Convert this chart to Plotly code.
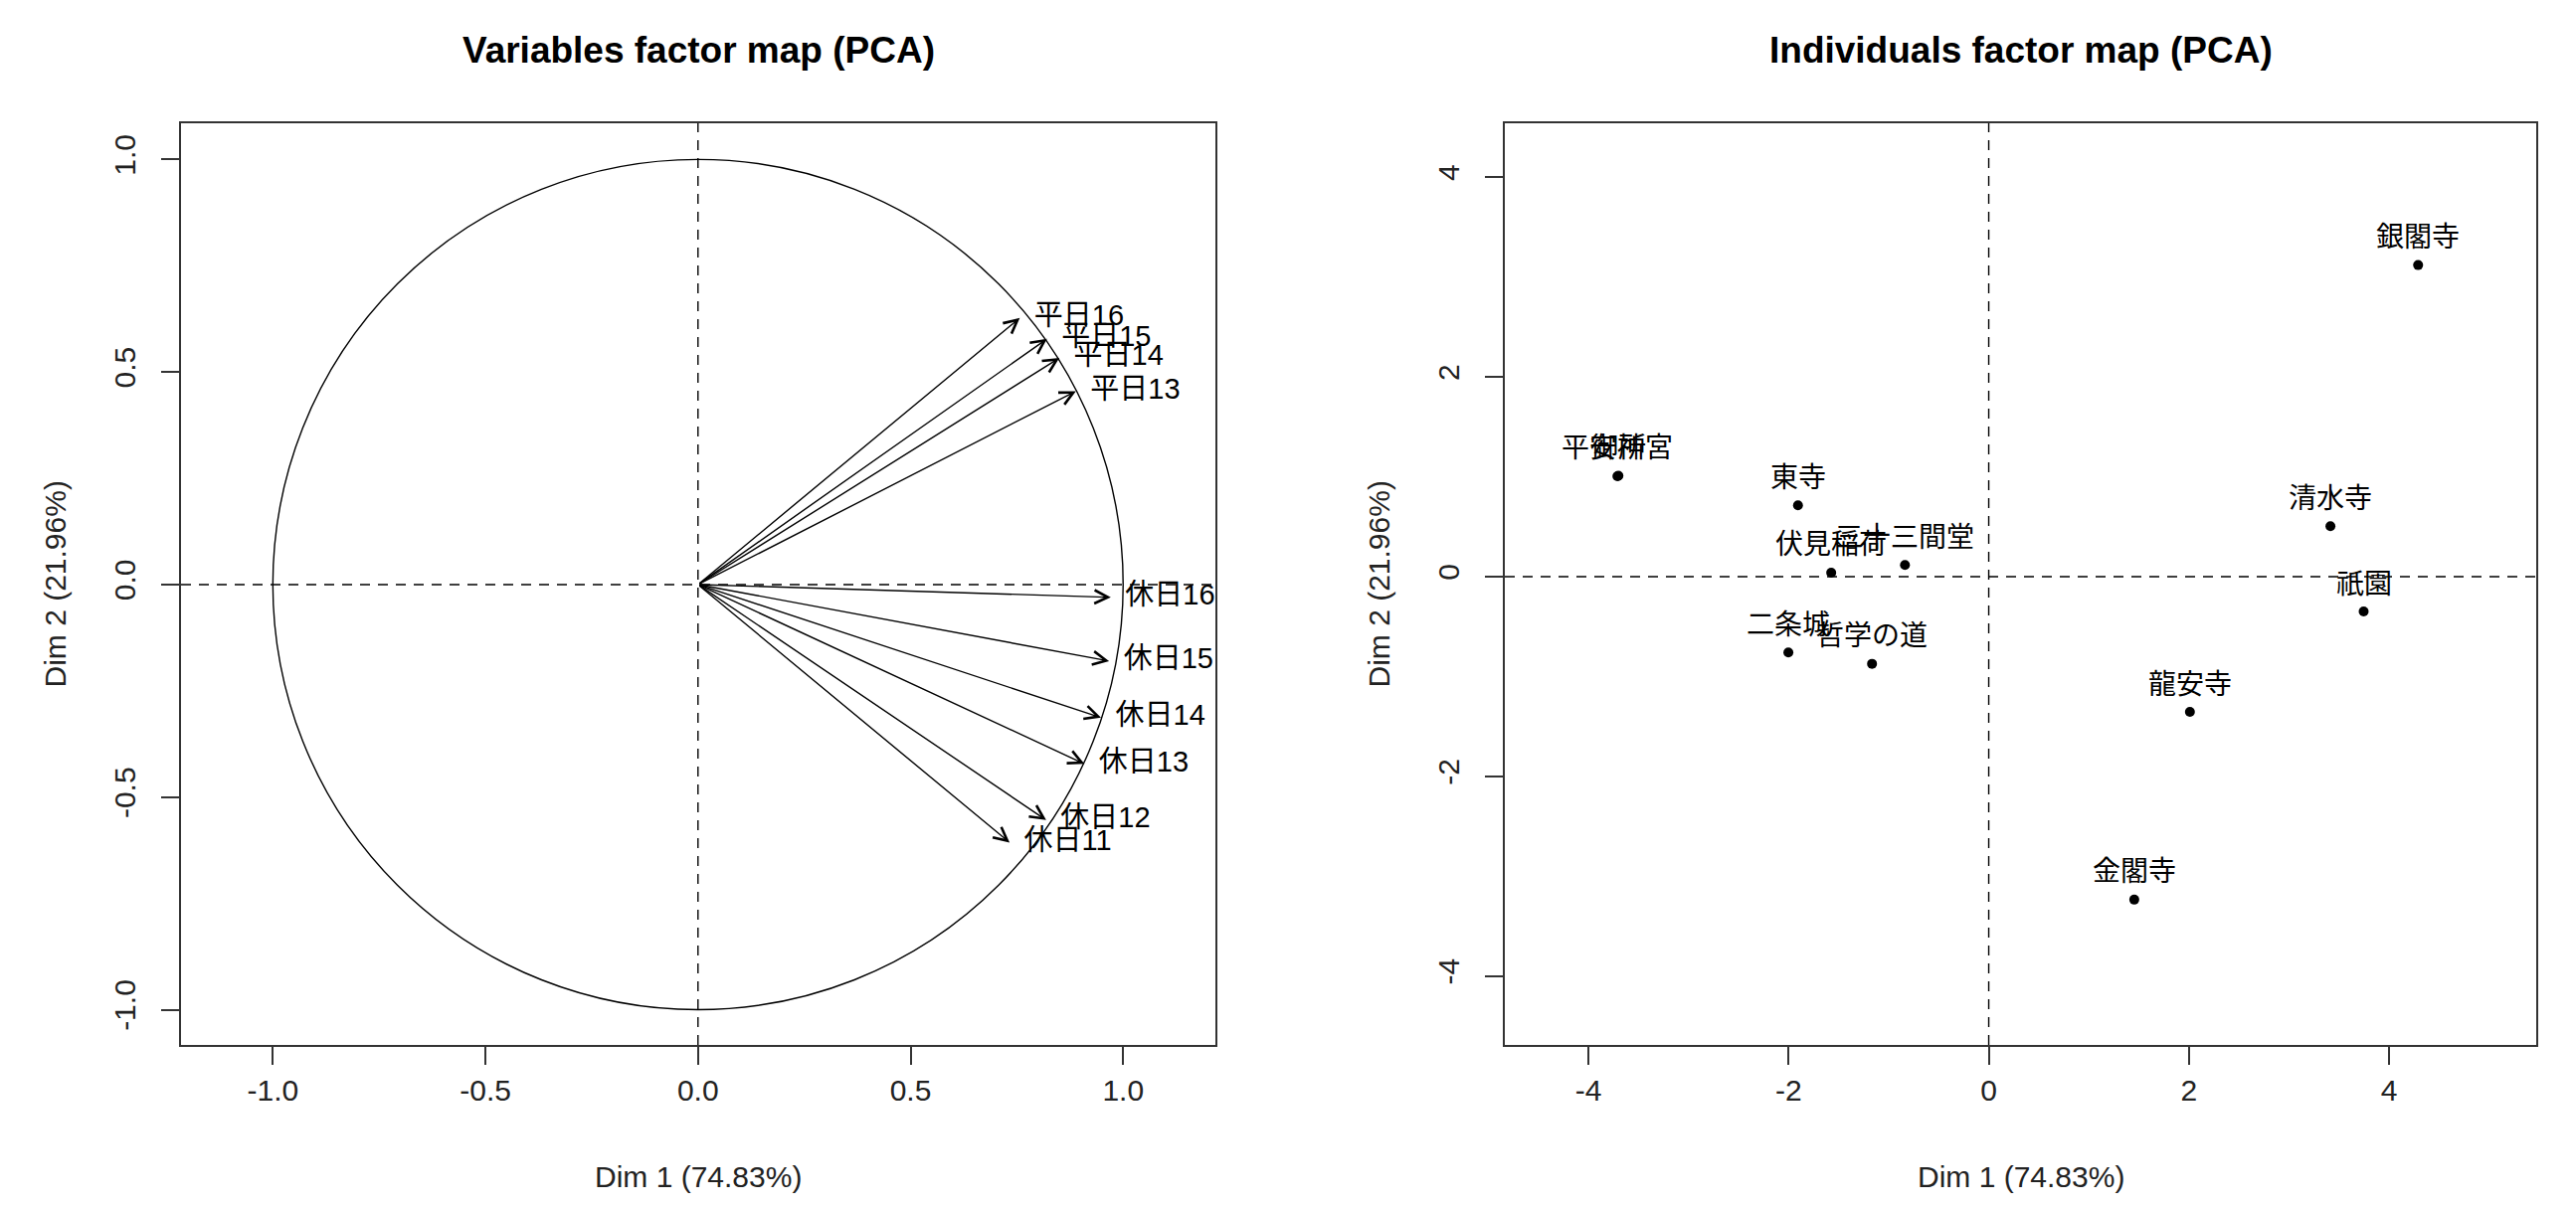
import plotly.graph_objects as go

W, H = 2590, 1216

# ---------------- data ----------------
var_names = ["平日13", "平日14", "平日15", "平日16",
             "休日11", "休日12", "休日13", "休日14", "休日15", "休日16"]
var_dim1 = [0.889, 0.850, 0.821, 0.757, 0.733, 0.819, 0.909, 0.948, 0.967, 0.971]
var_dim2 = [0.455, 0.533, 0.578, 0.627, -0.607, -0.554, -0.422, -0.313, -0.180, -0.030]

ind_names = ["金閣寺", "銀閣寺", "清水寺", "伏見稲荷", "三十三間堂", "二条城",
             "東寺", "平安神宮", "御所", "哲学の道", "祇園", "龍安寺"]
ind_dim1 = [1.454, 4.29, 3.414, -1.574, -0.837, -2.002, -1.906, -3.71, -3.70, -1.166, 3.746, 2.01]
ind_dim2 = [-3.235, 3.12, 0.505, 0.04, 0.116, -0.76, 0.714, 1.006, 1.01, -0.873, -0.349, -1.355]

var_ticks = [-1.0, -0.5, 0.0, 0.5, 1.0]
var_ticktext = ["-1.0", "-0.5", "0.0", "0.5", "1.0"]
ind_ticks = [-4, -2, 0, 2, 4]
ind_ticktext = ["-4", "-2", "0", "2", "4"]

title_var = "Variables factor map (PCA)"
title_ind = "Individuals factor map (PCA)"
xlab = "Dim 1 (74.83%)"
ylab = "Dim 2 (21.96%)"

# ---------------- layout geometry (pixels) ----------------
L1, R1 = 182, 1222
L2, R2 = 1513, 2550
TOP, BOT = 124, 1051

FONT = "Liberation Sans, Arial, Noto Sans CJK JP"
CJK = "Liberation Sans, Noto Sans CJK JP"
BOX = "#333333"

fig = go.Figure()

# Individuals points
fig.add_trace(go.Scatter(
    x=ind_dim1, y=ind_dim2, mode="markers",
    marker=dict(color="black", size=10),
    xaxis="x2", yaxis="y2", showlegend=False, hoverinfo="skip"))

# Variable labels (clipped to plot area)
fig.add_trace(go.Scatter(
    x=var_dim1, y=var_dim2, mode="text",
    text=["\u2002" + n for n in var_names],
    textposition="middle right",
    textfont=dict(family=CJK, size=29, color="black"),
    cliponaxis=True,
    xaxis="x", yaxis="y", showlegend=False, hoverinfo="skip"))

annotations = []
# arrows
for xv, yv in zip(var_dim1, var_dim2):
    annotations.append(dict(
        x=xv, y=yv, ax=0, ay=0, xref="x", yref="y", axref="x", ayref="y",
        text="", showarrow=True, arrowhead=5, arrowsize=1.9, arrowwidth=1.4,
        arrowcolor="black", standoff=0, startstandoff=0))

# individual labels
for n, xv, yv in zip(ind_names, ind_dim1, ind_dim2):
    annotations.append(dict(
        x=xv, y=yv, xref="x2", yref="y2", text=n, showarrow=False,
        xanchor="center", yanchor="middle", yshift=28,
        font=dict(family=CJK, size=28, color="black")))

def px(xp):
    return xp / W

def py(yp):
    return 1 - yp / H

# titles
for t, cx in [(title_var, (L1 + R1) / 2), (title_ind, (L2 + R2) / 2)]:
    annotations.append(dict(
        x=px(cx), y=py(50), xref="paper", yref="paper", text=t, showarrow=False,
        xanchor="center", yanchor="middle",
        font=dict(family=FONT, size=37, color="black", weight="bold")))
# axis titles
for cx in [(L1 + R1) / 2, (L2 + R2) / 2]:
    annotations.append(dict(
        x=px(cx), y=py(1183), xref="paper", yref="paper", text=xlab, showarrow=False,
        xanchor="center", yanchor="middle",
        font=dict(family=FONT, size=30, color="#222222")))
for cx in [55, 55 + (L2 - L1)]:
    annotations.append(dict(
        x=px(cx), y=py((TOP + BOT) / 2), xref="paper", yref="paper", text=ylab,
        showarrow=False, textangle=-90, xanchor="center", yanchor="middle",
        font=dict(family=FONT, size=30, color="#222222")))

shapes = [
    # unit circle
    dict(type="circle", xref="x", yref="y", x0=-1, y0=-1, x1=1, y1=1,
         line=dict(color="black", width=1.4)),
    # dashed axes lines
    dict(type="line", xref="x", yref="y domain", x0=0, x1=0, y0=0, y1=1,
         line=dict(color="black", width=1.4, dash="10px,8px")),
    dict(type="line", xref="x domain", yref="y", x0=0, x1=1, y0=0, y1=0,
         line=dict(color="black", width=1.4, dash="10px,8px")),
    dict(type="line", xref="x2", yref="y2 domain", x0=0, x1=0, y0=0, y1=1,
         line=dict(color="black", width=1.4, dash="10px,8px")),
    dict(type="line", xref="x2 domain", yref="y2", x0=0, x1=1, y0=0, y1=0,
         line=dict(color="black", width=1.4, dash="10px,8px")),
]

axis_common = dict(
    showgrid=False, zeroline=False, showline=True, mirror=True,
    linecolor=BOX, linewidth=2, ticks="outside", ticklen=18, tickwidth=2,
    tickcolor=BOX, tickfont=dict(family=FONT, size=30, color="#222222"),
    fixedrange=True)

fig.update_layout(
    width=W, height=H,
    margin=dict(l=0, r=0, t=0, b=0),
    paper_bgcolor="white", plot_bgcolor="white",
    showlegend=False,
    xaxis=dict(domain=[px(L1), px(R1)], range=[-1.216, 1.217],
               tickvals=var_ticks, ticktext=var_ticktext, anchor="y", **axis_common),
    yaxis=dict(domain=[py(BOT), py(TOP)], range=[-1.083, 1.085],
               tickvals=var_ticks, ticktext=var_ticktext, tickangle=-90,
               ticklabelstandoff=14, anchor="x", **axis_common),
    xaxis2=dict(domain=[px(L2), px(R2)], range=[-4.835, 5.47],
                tickvals=ind_ticks, ticktext=ind_ticktext, anchor="y2", **axis_common),
    yaxis2=dict(domain=[py(BOT), py(TOP)], range=[-4.69, 4.54],
                tickvals=ind_ticks, ticktext=ind_ticktext, tickangle=-90,
                ticklabelstandoff=14, anchor="x2", **axis_common),
    annotations=annotations,
    shapes=shapes,
)

fig.write_html("out.html",
               config={"displayModeBar": False},
               post_script="document.body.style.margin='0';document.body.style.overflow='hidden';")
